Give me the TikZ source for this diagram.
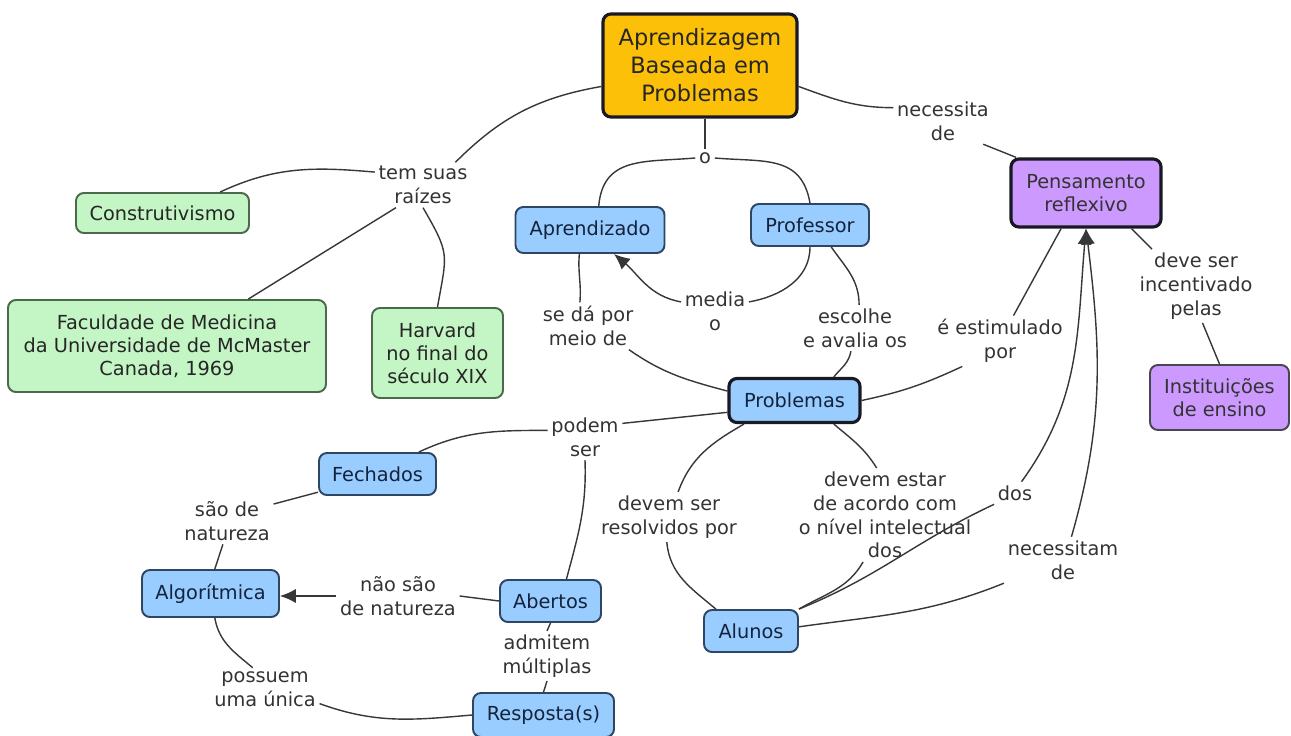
\documentclass[tikz,border=0pt]{standalone}
\usepackage{fontspec}
\setmainfont{DejaVu Sans}
\usetikzlibrary{arrows.meta}

\definecolor{abpyellow}{RGB}{252,192,8}
\definecolor{cgreen}{RGB}{196,245,196}
\definecolor{cblue}{RGB}{153,204,255}
\definecolor{cpurple}{RGB}{204,153,255}
\definecolor{linegray}{RGB}{55,55,55}
\definecolor{edgeblue}{RGB}{45,70,100}
\definecolor{edgegreen}{RGB}{75,105,75}
\definecolor{edgedark}{RGB}{25,25,35}
\definecolor{txtdark}{RGB}{20,35,60}

\tikzset{
  wh/.style 2 args={minimum width=#1*0.02cm, minimum height=#2*0.02cm},
  concept/.style={draw, rounded corners=4.5pt, line width=1.1pt, inner sep=2pt, align=center, font=\fontsize{11}{13}\selectfont},
  green concept/.style={concept, fill=cgreen, draw=edgegreen, text=black!85},
  blue concept/.style={concept, fill=cblue, draw=edgeblue, text=txtdark},
  purple concept/.style={concept, fill=cpurple, draw=edgedark!80, text=black!80},
  thickrim/.style={line width=1.8pt, draw=edgedark},
  phrase/.style={inner sep=2pt, align=center, text=black!80, font=\fontsize{11}{13.5}\selectfont},
  link/.style={draw=linegray, line width=0.8pt},
  arrowlink/.style={-{Latex[length=9pt,width=8pt]}}
}

\begin{document}
\begin{tikzpicture}[x=0.02cm, y=0.02cm]
\useasboundingbox (0,0) rectangle (1291,-736);

\node [concept, fill=abpyellow, thickrim, text=black!85, font=\fontsize{12.8}{16}\selectfont, wh={194}{103}] (abp) at (700,-65.5) {Aprendizagem\\Baseada em\\Problemas};
\node [green concept, wh={173}{40}] (constr) at (162.5,-213) {Construtivismo};
\node [green concept, wh={318}{92}] (facul) at (167,-346) {Faculdade de Medicina\\da Universidade de McMaster\\Canada, 1969};
\node [green concept, wh={131}{90}] (harv) at (437.5,-353) {Harvard\\no final do\\século XIX};
\node [blue concept, wh={149}{46}] (aprend) at (590,-230) {Aprendizado};
\node [blue concept, wh={118}{42}] (prof) at (810,-225) {Professor};
\node [purple concept, thickrim, wh={150}{68}] (pens) at (1086,-193) {Pensamento\\reflexivo};
\node [purple concept, wh={139}{65}] (inst) at (1219.5,-397.5) {Instituições\\de ensino};
\node [blue concept, thickrim, wh={131}{44}] (prob) at (794.5,-400.5) {Problemas};
\node [blue concept, wh={117}{42}] (fech) at (377.5,-474) {Fechados};
\node [blue concept, wh={137}{47}] (algo) at (210.5,-593.5) {Algorítmica};
\node [blue concept, wh={101}{42}] (abert) at (550.5,-601) {Abertos};
\node [blue concept, wh={141}{44}] (resp) at (543.5,-715) {Resposta(s)};
\node [blue concept, wh={94}{42}] (alun) at (751,-631) {Alunos};

\node [phrase] (l1) at (423,-185) {tem suas\\raízes};
\node [phrase] (l2) at (705,-158) {o};
\node [phrase] (l3) at (943,-121) {necessita\\de};
\node [phrase] (l4) at (715,-311) {media\\o};
\node [phrase] (l5) at (588,-326) {se dá por\\meio de};
\node [phrase] (l6) at (855,-328) {escolhe\\e avalia os};
\node [phrase] (l7) at (1000,-341) {é estimulado\\por};
\node [phrase] (l8) at (1196,-286) {deve ser\\incentivado\\pelas};
\node [phrase] (l9) at (585,-437) {podem\\ser};
\node [phrase] (l10) at (227,-521) {são de\\natureza};
\node [phrase] (l11) at (398,-596) {não são\\de natureza};
\node [phrase] (l12) at (547,-656) {admitem\\múltiplas};
\node [phrase] (l13) at (265,-689) {possuem\\uma única};
\node [phrase] (l14) at (669,-517) {devem ser\\resolvidos por};
\node [phrase] (l15) at (885,-515) {devem estar\\de acordo com\\o nível intelectual\\dos};
\node [phrase] (l16) at (1015,-493) {dos};
\node [phrase] (l17) at (1063,-560) {necessitam\\de};

\draw [link] (abp.192) to[out=190,in=45] (l1.35);
\draw [link] (l1.165) to[out=175,in=25] (constr.20);
\draw [link] (l1.220) -- (facul.30);
\draw [link] (l1.south) to[out=-60,in=80,looseness=1.4] (harv.north);
\draw [link] (abp.south -| l2) -- (l2.north);
\draw [link] (l2.west) to[out=185,in=85,looseness=1.2] (aprend.70);
\draw [link] (l2.east) to[out=-5,in=100,looseness=1.2] (prof.north);
\draw [link] (prof.south) to[out=-90,in=10] (l4.15);
\draw [link, arrowlink] (l4.165) to[out=170,in=-40] (aprend.-45);
\draw [link] (aprend.-114) to[out=-95,in=85] (l5.109);
\draw [link] (l5.-30) to[out=-35,in=165] (prob.172);
\draw [link] (prof.-46) to[out=-55,in=90] (l6.80);
\draw [link] (l6.-100) to[out=-100,in=50] (prob.31);
\draw [link] (prob.east) to[out=12,in=205] (l7.214);
\draw [link] (l7.62) -- (pens.-125);
\draw [link] (abp.-12) to[out=-20,in=180] (l3.165);
\draw [link] (l3.-30) -- (pens.153);
\draw [link] (pens.-38) -- (l8.140);
\draw [link] (l8.-80) -- (inst.north);
\draw [link] (prob.190) -- (l9.20);
\draw [link] (l9.170) to[out=180,in=25] (fech.28);
\draw [link] (l9.south) to[out=-88,in=75] (abert.54);
\draw [link] (fech.197) -- (l10.20);
\draw [link] (l10.-100) -- (algo.80);
\draw [link] (abert.west) -- (l11.east);
\draw [link, arrowlink] (l11.west) -- (l11.west -| algo.east);
\draw [link] (abert.south) -- (l12.north);
\draw [link] (l12.south) -- (resp.north);
\draw [link] (algo.-80) to[out=-80,in=140] (l13.120);
\draw [link] (l13.-15) to[out=-20,in=185] (resp.west);
\draw [link] (prob.-155) to[out=210,in=70] (l14.70);
\draw [link] (l14.-95) to[out=-85,in=140] (alun.148);
\draw [link] (prob.-31) to[out=-40,in=122] (l15.100);
\draw [link] (l15.-115) to[out=-120,in=30] (alun.north east);
\draw [link] (alun.north east) to[out=22,in=205] (l16.south west);
\draw [link, arrowlink] (l16.60) to[out=54,in=-95] (pens.-90);
\draw [link] (alun.5) to[out=8,in=202] (l17.south west);
\draw [link, arrowlink] (l17.70) to[out=74,in=-83] (pens.-90);
\end{tikzpicture}
\end{document}
